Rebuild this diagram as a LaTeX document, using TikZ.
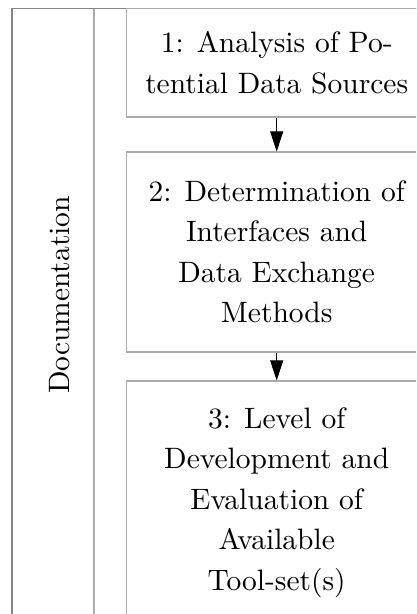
\documentclass[tikz,border=0pt]{standalone}
\usepackage{fontspec}
% the 10pt design of Latin Modern, scaled up
\setmainfont{lmroman10-regular}[Extension=.otf]
\usetikzlibrary{arrows.meta}
\begin{document}
\begin{tikzpicture}[x=1pt,y=-1pt,
  framecol/.style={draw=black!48, line width=1.1pt},
  lanecol/.style={draw=black!33, line width=1.1pt},
  stepbox/.style={draw=black!33, line width=1.1pt, minimum width=300pt,
    align=center, inner sep=0pt},
  flow/.style={-{Triangle[length=20pt,width=13pt]}, line width=0.9pt},
  every node/.style={font=\fontsize{29.5}{40.5}\selectfont}]
\useasboundingbox (0,0) rectangle (416,614);
\clip (0,0) rectangle (416,614);
% outer frame of the documentation lane
\draw[framecol] (12,640) -- (12,8.5) -- (440,8.5);
\draw[lanecol] (94,8.5) -- (94,640);
\node[rotate=90] (doc) at (60,295) {Documentation};
% process steps
\node[stepbox, minimum height=108.5pt] (s1) at (276.7,62.75)
  {1: Analysis of Po-\\tential Data Sources};
\node[stepbox, minimum height=200pt] (s2) at (276.7,252)
  {2: Determination of\\Interfaces and\\Data Exchange\\Methods};
\node[stepbox, minimum height=243pt] (s3) at (276.7,502.5)
  {3: Level of\\Development and\\Evaluation of\\Available\\Tool-set(s)};
\draw[flow] (s1.south) -- (s2.north);
\draw[flow] (s2.south) -- (s3.north);
\end{tikzpicture}
\end{document}
